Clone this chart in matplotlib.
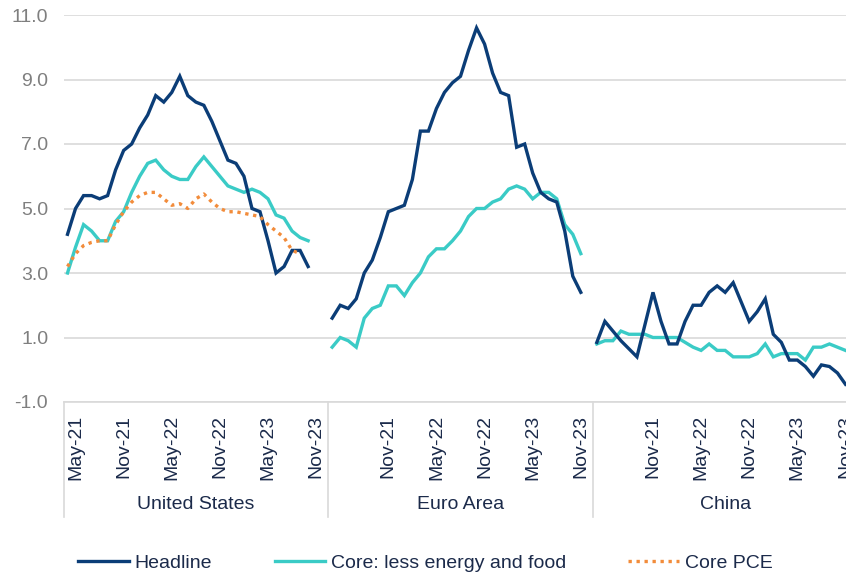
import matplotlib
matplotlib.use('Agg')
import matplotlib.pyplot as plt
import matplotlib.transforms as mtransforms
from matplotlib.lines import Line2D

plt.rcParams['font.family'] = ['Liberation Sans', 'DejaVu Sans']

# monthly data, Apr-21 onwards, per region
us_headline = [4.2, 5.0, 5.4, 5.4, 5.3, 5.4, 6.2, 6.8, 7.0, 7.5, 7.9, 8.5, 8.3, 8.6, 9.1, 8.5,
               8.3, 8.2, 7.7, 7.1, 6.5, 6.4, 6.0, 5.0, 4.9, 4.0, 3.0, 3.2, 3.7, 3.7, 3.2]
us_core = [3.0, 3.8, 4.5, 4.3, 4.0, 4.0, 4.6, 4.9, 5.5, 6.0, 6.4, 6.5, 6.2, 6.0, 5.9, 5.9,
           6.3, 6.6, 6.3, 6.0, 5.7, 5.6, 5.5, 5.6, 5.5, 5.3, 4.8, 4.7, 4.3, 4.1, 4.0]
us_core_pce = [3.2, 3.6, 3.85, 3.95, 4.0, 4.0, 4.5, 4.9, 5.2, 5.4, 5.5, 5.5, 5.3, 5.1, 5.15,
               5.0, 5.3, 5.45, 5.2, 5.0, 4.9, 4.9, 4.85, 4.8, 4.75, 4.5, 4.3, 4.1, 3.7, 3.6]
ea_headline = [1.6, 2.0, 1.9, 2.2, 3.0, 3.4, 4.1, 4.9, 5.0, 5.1, 5.9, 7.4, 7.4, 8.1, 8.6, 8.9,
               9.1, 9.9, 10.6, 10.1, 9.2, 8.6, 8.5, 6.9, 7.0, 6.1, 5.5, 5.3, 5.2, 4.3, 2.9, 2.4]
ea_core = [0.7, 1.0, 0.9, 0.7, 1.6, 1.9, 2.0, 2.6, 2.6, 2.3, 2.7, 3.0, 3.5, 3.75, 3.75, 4.0,
           4.3, 4.75, 5.0, 5.0, 5.2, 5.3, 5.6, 5.7, 5.6, 5.3, 5.5, 5.5, 5.3, 4.5, 4.2, 3.6]
cn_headline = [0.85, 1.5, 1.2, 0.9, 0.65, 0.4, 1.4, 2.4, 1.5, 0.8, 0.8, 1.5, 2.0, 2.0, 2.4, 2.6,
               2.4, 2.7, 2.1, 1.5, 1.8, 2.2, 1.1, 0.85, 0.3, 0.3, 0.1, -0.2, 0.15, 0.1, -0.1, -0.45]
cn_core = [0.8, 0.9, 0.9, 1.2, 1.1, 1.1, 1.1, 1.0, 1.0, 1.0, 1.0, 0.85, 0.7, 0.6, 0.8, 0.6,
           0.6, 0.4, 0.4, 0.4, 0.5, 0.8, 0.4, 0.5, 0.5, 0.5, 0.3, 0.7, 0.7, 0.8, 0.7, 0.6]

groups = ['United States', 'Euro Area', 'China']
n_months = 33
us_ticks = ['May-21', 'Nov-21', 'May-22', 'Nov-22', 'May-23', 'Nov-23']
other_ticks = ['Nov-21', 'May-22', 'Nov-22', 'May-23', 'Nov-23']
tick_idx_us = [1, 7, 13, 19, 25, 31]
tick_idx_other = [7, 13, 19, 25, 31]

c_head = '#0B3D77'
c_core = '#3ACBC6'
c_pce = '#F28C3B'
c_grid = '#D9D9D9'
c_text = '#1B2A4A'

fig = plt.figure(figsize=(8.46, 5.74), dpi=100)
ax = fig.add_axes([63.5 / 846, 1 - 402 / 574, 794 / 846, 387 / 574])

def xs(offset, vals):
    return [offset + i for i in range(len(vals))]

lw = 2.4
for k, (h, c) in enumerate([(us_headline, us_core), (ea_headline, ea_core), (cn_headline, cn_core)]):
    off = k * n_months
    ax.plot(xs(off, c), c, color=c_core, lw=lw, solid_joinstyle='miter')
    ax.plot(xs(off, h), h, color=c_head, lw=lw, solid_joinstyle='miter')
ax.plot(xs(0, us_core_pce), us_core_pce, color=c_pce, lw=lw, linestyle=(0, (1, 1.4)))

ax.set_xlim(-0.5, 3 * n_months - 0.5)
ax.set_ylim(-1, 11)
yt = [-1, 1, 3, 5, 7, 9, 11]
ax.set_yticks(yt)
ax.set_yticklabels(['%.1f' % v for v in yt])
ax.yaxis.grid(True, color=c_grid, lw=1.2)
ax.set_axisbelow(True)

tick_pos, tick_lab = [], []
for k in range(3):
    idx = tick_idx_us if k == 0 else tick_idx_other
    labs = us_ticks if k == 0 else other_ticks
    tick_pos += [k * n_months + i for i in idx]
    tick_lab += labs
ax.set_xticks(tick_pos)
ax.set_xticklabels(tick_lab, rotation=90, fontsize=14, color=c_text)
ax.tick_params(axis='x', length=0, pad=9)
ax.tick_params(axis='y', length=0, pad=11, labelsize=14, labelcolor='#7F7F7F')

for s in ['top', 'right', 'left']:
    ax.spines[s].set_visible(False)
ax.spines['bottom'].set_color(c_grid)
ax.spines['bottom'].set_linewidth(1.2)

# group separators and labels
trans = mtransforms.blended_transform_factory(ax.transData, ax.transAxes)
for k in range(3):
    x0 = k * n_months - 0.5
    ax.plot([x0, x0], [0, -0.297], transform=trans, color=c_grid, lw=1.2, clip_on=False)
    ax.text(x0 + n_months / 2, -0.266, groups[k], transform=trans, ha='center', va='center',
            fontsize=14, color=c_text)

handles = [Line2D([], [], color=c_head, lw=lw),
           Line2D([], [], color=c_core, lw=lw),
           Line2D([], [], color=c_pce, lw=lw, linestyle=(0, (1, 1.4)))]
fig.legend(handles, ['Headline', 'Core: less energy and food', 'Core PCE'], ncol=3,
           loc='center', bbox_to_anchor=(0.503, 1 - 563 / 574), frameon=False, fontsize=14,
           handlelength=2.6, handletextpad=0.3, columnspacing=3.2, labelcolor=c_text)

fig.savefig('out.png', dpi=100)
